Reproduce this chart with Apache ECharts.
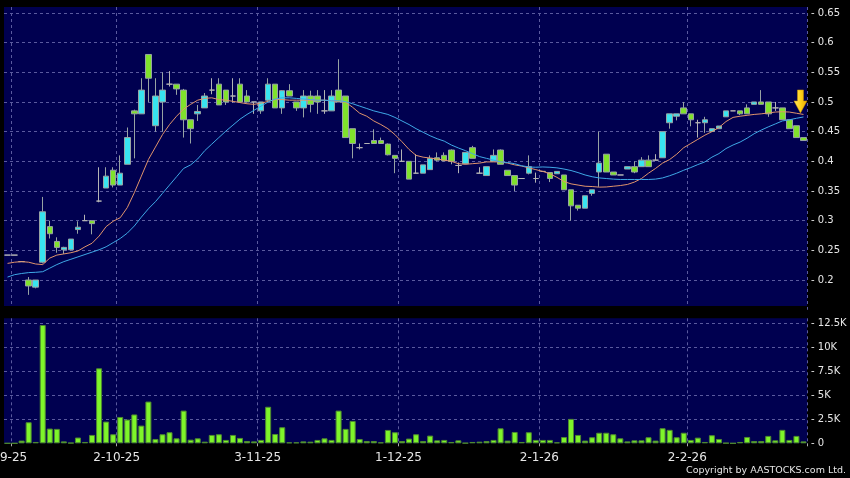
<!DOCTYPE html>
<html><head><meta charset="utf-8">
<script src="https://cdn.jsdelivr.net/npm/echarts@6/dist/echarts.min.js"></script>
<style>html,body{margin:0;padding:0;background:#000;}#c{width:850px;height:478px;}</style>
</head><body><div id="c"></div>
<script>
const opens  = [0.242,0.242,0.231,0.20,0.188,0.23,0.29,0.265,0.251,0.251,0.285,0.30,0.30,0.333,0.355,0.385,0.36,0.395,0.485,0.48,
0.58,0.46,0.50,0.53,0.53,0.52,0.47,0.48,0.49,0.52,0.53,0.52,0.51,0.53,0.51,0.50,0.485,0.503,0.53,0.49,
0.519,0.50,0.49,0.51,0.51,0.485,0.485,0.52,0.51,0.455,0.423,0.43,0.435,0.435,0.429,0.41,0.40,0.40,0.38,0.38,
0.386,0.406,0.41,0.419,0.393,0.396,0.423,0.38,0.376,0.40,0.419,0.385,0.376,0.371,0.38,0.371,0.383,0.381,0.379,0.377,
0.352,0.326,0.321,0.346,0.382,0.412,0.382,0.377,0.387,0.391,0.391,0.402,0.402,0.406,0.465,0.476,0.49,0.48,0.465,0.465,
0.4505,0.455,0.475,0.485,0.485,0.49,0.496,0.50,0.50,0.49,0.49,0.47,0.46,0.44];
const closes = [0.242,0.242,0.231,0.19,0.20,0.315,0.278,0.255,0.255,0.269,0.289,0.30,0.295,0.333,0.375,0.36,0.38,0.44,0.48,0.52,
0.54,0.51,0.52,0.53,0.522,0.47,0.455,0.484,0.51,0.52,0.495,0.50,0.51,0.50,0.50,0.50,0.50,0.53,0.49,0.519,
0.51,0.49,0.51,0.496,0.50,0.485,0.51,0.50,0.44,0.43,0.423,0.43,0.43,0.43,0.411,0.405,0.40,0.37,0.38,0.394,
0.405,0.402,0.401,0.40,0.393,0.415,0.405,0.38,0.391,0.41,0.395,0.376,0.36,0.371,0.391,0.371,0.383,0.371,0.383,0.352,
0.325,0.321,0.342,0.352,0.397,0.382,0.377,0.377,0.391,0.382,0.402,0.391,0.402,0.45,0.48,0.48,0.48,0.47,0.465,0.47,
0.455,0.4595,0.485,0.485,0.48,0.48,0.50,0.496,0.48,0.49,0.47,0.455,0.44,0.435];
const lows   = [0.242,0.242,0.231,0.175,0.186,0.228,0.27,0.246,0.244,0.25,0.278,0.30,0.277,0.331,0.355,0.356,0.36,0.395,0.405,0.48,
0.50,0.45,0.45,0.526,0.512,0.44,0.43,0.468,0.49,0.513,0.495,0.495,0.499,0.50,0.50,0.48,0.48,0.50,0.49,0.48,
0.51,0.485,0.474,0.4825,0.48,0.48,0.485,0.50,0.44,0.405,0.42,0.43,0.43,0.43,0.41,0.38,0.40,0.37,0.38,0.38,
0.386,0.40,0.40,0.395,0.38,0.395,0.405,0.38,0.376,0.40,0.395,0.376,0.35,0.371,0.378,0.364,0.383,0.365,0.379,0.352,
0.30,0.317,0.321,0.342,0.357,0.382,0.377,0.377,0.387,0.38,0.391,0.391,0.402,0.406,0.455,0.469,0.48,0.459,0.44,0.448,
0.4505,0.455,0.475,0.485,0.478,0.48,0.496,0.496,0.475,0.485,0.47,0.455,0.44,0.435];
const highs  = [0.242,0.242,0.231,0.205,0.20,0.34,0.30,0.272,0.256,0.269,0.299,0.31,0.30,0.39,0.39,0.39,0.41,0.457,0.487,0.54,
0.58,0.54,0.55,0.552,0.53,0.522,0.47,0.495,0.515,0.54,0.54,0.52,0.54,0.54,0.52,0.50,0.50,0.54,0.53,0.52,
0.53,0.50,0.52,0.519,0.52,0.52,0.52,0.572,0.51,0.455,0.43,0.43,0.454,0.44,0.43,0.41,0.42,0.40,0.412,0.394,
0.41,0.415,0.415,0.42,0.398,0.415,0.426,0.39,0.391,0.42,0.42,0.385,0.376,0.371,0.41,0.381,0.383,0.381,0.383,0.377,
0.352,0.326,0.342,0.352,0.45,0.412,0.382,0.377,0.391,0.40,0.407,0.41,0.412,0.45,0.48,0.48,0.50,0.48,0.47,0.475,
0.455,0.4595,0.485,0.485,0.485,0.496,0.50,0.52,0.50,0.50,0.49,0.47,0.46,0.44];
const volumes = [0,0,280,2190,140,12300,1530,1500,200,50,600,140,870,7800,2260,940,2740,2470,3000,1840,
4340,450,940,1150,520,3400,380,520,170,870,940,350,870,560,240,200,350,3800,970,1670,
100,100,200,170,350,520,350,3400,1500,2330,450,240,240,100,1390,1150,240,490,940,240,
800,310,350,140,310,30,140,170,240,350,1560,280,1180,140,1150,350,350,350,100,650,
2540,870,280,630,1100,1100,940,520,200,310,310,630,280,1570,1400,630,1100,350,590,140,
840,450,30,0,140,660,240,240,770,310,1400,350,770,200];
const maShort = [0.228,0.230,0.231,0.230,0.227,0.226,0.237,0.242,0.244,0.246,0.249,0.256,0.262,0.274,0.290,0.299,0.305,0.322,0.347,0.375,
0.403,0.424,0.445,0.462,0.476,0.488,0.496,0.503,0.506,0.507,0.504,0.503,0.501,0.499,0.497,0.496,0.498,0.501,0.504,0.504,
0.503,0.503,0.503,0.503,0.503,0.503,0.502,0.501,0.4995,0.491,0.481,0.476,0.468,0.462,0.455,0.445,0.433,0.420,0.410,0.407,
0.4055,0.404,0.402,0.400,0.396,0.395,0.396,0.397,0.399,0.399,0.399,0.397,0.394,0.392,0.389,0.386,0.383,0.379,0.373,0.366,
0.362,0.360,0.358,0.3575,0.3565,0.3568,0.358,0.3592,0.361,0.365,0.371,0.380,0.388,0.397,0.403,0.412,0.423,0.430,0.437,0.444,
0.450,0.457,0.467,0.474,0.476,0.4775,0.479,0.480,0.4815,0.483,0.4835,0.483,0.481,0.479];
const maLong = [0.205,0.209,0.211,0.2125,0.213,0.214,0.220,0.226,0.231,0.235,0.239,0.243,0.247,0.251,0.256,0.263,0.270,0.279,0.291,0.306,
0.320,0.332,0.346,0.360,0.374,0.388,0.394,0.404,0.418,0.429,0.440,0.451,0.461,0.471,0.479,0.486,0.493,0.500,0.505,0.507,
0.507,0.506,0.505,0.504,0.503,0.503,0.502,0.502,0.5005,0.497,0.493,0.489,0.485,0.482,0.479,0.474,0.468,0.462,0.455,0.449,
0.443,0.438,0.434,0.4275,0.4225,0.418,0.413,0.408,0.405,0.402,0.399,0.398,0.396,0.3925,0.3905,0.390,0.3905,0.390,0.389,0.387,
0.3845,0.381,0.377,0.374,0.372,0.371,0.370,0.3694,0.3694,0.3694,0.3694,0.3694,0.370,0.372,0.3757,0.380,0.385,0.3895,0.3945,0.399,
0.407,0.413,0.4215,0.4275,0.4324,0.439,0.4465,0.4526,0.458,0.463,0.468,0.470,0.4725,0.4747];
const dateTicks = {1:'1-9-25', 16:'2-10-25', 36:'3-11-25', 56:'1-12-25', 76:'2-1-26', 97:'2-2-26'};
const arrowPrice = 0.4815;

const categories = opens.map((_, i) => i);
const candles = opens.map((o, i) => [o, closes[i], lows[i], highs[i]]);
const isTick = (i) => dateTicks[i] !== undefined;

const chart = echarts.init(document.getElementById('c'), null, {renderer: 'canvas'});
const gridLine = {show: true, lineStyle: {color: '#5a5a9e', type: [3, 3], width: 1}};
const labelColor = '#e6e6e6';
const fmtPrice = v => v < 0.175 || v > 0.655 ? '' : '- ' + (+v.toFixed(2));
const fmtVol = v => v === 0 ? '- 0' : (v > 12600 ? '' : '- ' + (+(v / 1000).toFixed(1)) + 'K');

chart.setOption({
  animation: false,
  backgroundColor: '#000',
  grid: [
    {left: 4, right: 43, top: 7, bottom: 168.3, show: true, backgroundColor: '#000050', borderWidth: 0, outerBoundsMode: 'none', containLabel: false},
    {left: 4, right: 43, top: 318.3, bottom: 34.7, show: true, backgroundColor: '#000050', borderWidth: 0, outerBoundsMode: 'none', containLabel: false}
  ],
  xAxis: [
    {type: 'category', gridIndex: 0, data: categories, boundaryGap: true,
     axisLine: {show: false}, axisTick: {show: false}, axisLabel: {show: false},
     splitLine: Object.assign({interval: (i) => isTick(i)}, gridLine)},
    {type: 'category', gridIndex: 1, data: categories, boundaryGap: true, offset: 3,
     axisLine: {show: false},
     axisTick: {show: true, interval: (i) => isTick(i), length: 3, lineStyle: {color: '#aaaaaa'}},
     axisLabel: {show: true, interval: (i) => isTick(i), margin: 6, color: labelColor,
       fontFamily: 'DejaVu Sans', fontSize: 12,
       formatter: (v, i) => isTick(i) ? (i === 1 ? '{f|' + dateTicks[i] + '}' : '{s|' + dateTicks[i] + '}') : '',
       rich: {f: {padding: [0, 14, 0, 0], color: labelColor, fontFamily: 'DejaVu Sans', fontSize: 12},
              s: {padding: [0, 7, 0, 0], color: labelColor, fontFamily: 'DejaVu Sans', fontSize: 12}}},
     splitLine: Object.assign({interval: (i) => isTick(i)}, gridLine)}
  ],
  yAxis: [
    {type: 'value', gridIndex: 0, position: 'right', min: 0.15, max: 0.66, interval: 0.05,
     axisLine: {show: false}, axisTick: {show: false},
     axisLabel: {color: labelColor, fontFamily: 'DejaVu Sans', fontSize: 10, margin: 4, formatter: fmtPrice, showMaxLabel: false},
     splitLine: Object.assign({showMinLine: false, showMaxLine: false}, gridLine)},
    {type: 'value', gridIndex: 1, position: 'right', min: 0, max: 13000, interval: 2500,
     axisLine: {show: false}, axisTick: {show: false},
     axisLabel: {color: labelColor, fontFamily: 'DejaVu Sans', fontSize: 10, margin: 4, formatter: fmtVol, showMaxLabel: false},
     splitLine: Object.assign({showMinLine: false, showMaxLine: false}, gridLine)}
  ],
  series: [
    {type: 'candlestick', xAxisIndex: 0, yAxisIndex: 0, data: candles, barWidth: 6,
     itemStyle: {color: '#38E4F0', color0: '#80E22C', borderColor: '#97a3a3', borderColor0: '#97a3a3', borderColorDoji: '#b4b4b4', borderWidth: 1},
     markPoint: {
       silent: true,
       label: {show: false},
       data: [{coord: [opens.length - 1, arrowPrice],
         symbol: 'path://M3.5,0 L9.5,0 L9.5,11 L13,11 L6.5,23 L0,11 L3.5,11 Z',
         symbolSize: [13, 23], symbolOffset: [-3, '-50%'],
         itemStyle: {color: new echarts.graphic.LinearGradient(0, 0, 1, 0, [
           {offset: 0, color: '#FFE766'}, {offset: 0.5, color: '#FFD21A'}, {offset: 1, color: '#E8A800'}]),
           borderColor: '#c89000', borderWidth: 0.5}}]
     }},
    {type: 'line', xAxisIndex: 0, yAxisIndex: 0, data: maShort, symbol: 'none',
     lineStyle: {color: '#E0946C', width: 1}},
    {type: 'line', xAxisIndex: 0, yAxisIndex: 0, data: maLong, symbol: 'none',
     lineStyle: {color: '#3FA8E6', width: 1}},
    {type: 'bar', xAxisIndex: 1, yAxisIndex: 1, data: volumes, barWidth: 6,
     itemStyle: {color: '#7EF52A', borderColor: '#4f8a30', borderWidth: 1}}
  ],
  graphic: [
    {type: 'rect', z: 100, shape: {x: 4, y: 306, width: 803, height: 5}, style: {fill: '#000'}},
    {type: 'text', z: 100, right: 4, top: 466, style: {text: 'Copyright by AASTOCKS.com Ltd.', fill: '#e6e6e6', font: '9.5px "DejaVu Sans"'}}
  ]
});
</script></body></html>
